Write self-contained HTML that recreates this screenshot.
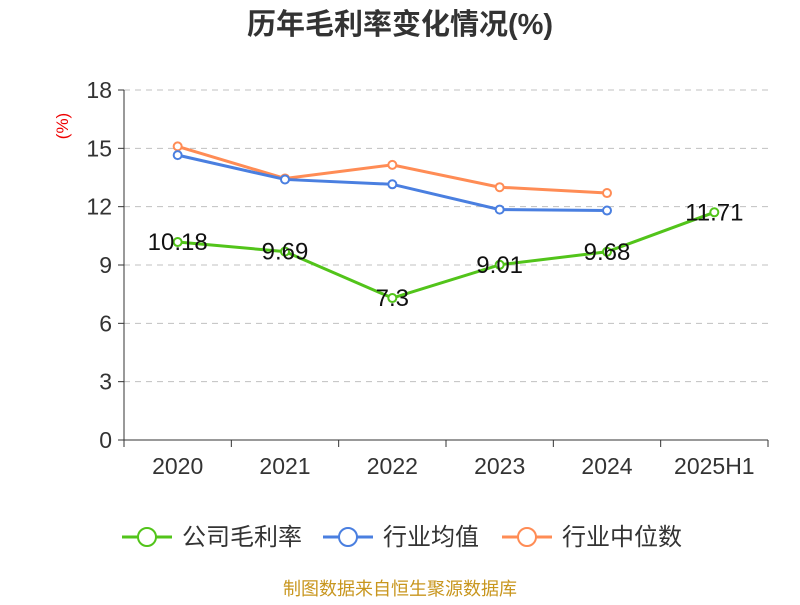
<!DOCTYPE html>
<html><head><meta charset="utf-8"><style>
body{margin:0;background:#fff;font-family:"Liberation Sans","Noto Sans CJK SC",sans-serif;}
</style></head><body>
<svg width="800" height="600" xmlns="http://www.w3.org/2000/svg" font-family="Liberation Sans, Noto Sans CJK SC, sans-serif">
<text x="400" y="34" text-anchor="middle" font-size="29" font-weight="bold" fill="#333">历年毛利率变化情况(%)</text>
<text transform="translate(68,126) rotate(-90)" text-anchor="middle" font-size="17" fill="#e00">(%)</text>
<g id="grid"></g><g id="axes"></g><g id="series"></g>
<g>
 <g><line x1="122" y1="537" x2="172" y2="537" stroke="#52c41a" stroke-width="3"/><circle cx="147" cy="537" r="9" fill="#fff" stroke="#52c41a" stroke-width="2"/><text x="182" y="545" font-size="24" fill="#333">公司毛利率</text></g>
 <g><line x1="323" y1="537" x2="373" y2="537" stroke="#4a7fe0" stroke-width="3"/><circle cx="348" cy="537" r="9" fill="#fff" stroke="#4a7fe0" stroke-width="2"/><text x="383" y="545" font-size="24" fill="#333">行业均值</text></g>
 <g><line x1="502" y1="537" x2="552" y2="537" stroke="#ff8c55" stroke-width="3"/><circle cx="527" cy="537" r="9" fill="#fff" stroke="#ff8c55" stroke-width="2"/><text x="562" y="545" font-size="24" fill="#333">行业中位数</text></g>
</g>
<text x="400" y="595" text-anchor="middle" font-size="18" fill="#c8961e">制图数据来自恒生聚源数据库</text>
</svg>
<script>
const categories=["2020","2021","2022","2023","2024","2025H1"];
const companyValues=[10.18,9.69,7.3,9.01,9.68,11.71];
const industryAvg=[14.65,13.4,13.15,11.85,11.8,null];
const industryMedian=[15.1,13.45,14.15,13.0,12.7,null];
const yTicks=[0,3,6,9,12,15,18];
const NS="http://www.w3.org/2000/svg";
const x0=124,x1=768,y0=440,y1=90,yMax=18;
const bw=(x1-x0)/categories.length;
const xs=i=>x0+bw*(i+0.5);
const ys=v=>y0-(v/yMax)*(y0-y1);
function mk(tag,attrs,parent){const e=document.createElementNS(NS,tag);for(const k in attrs)e.setAttribute(k,attrs[k]);parent.appendChild(e);return e;}
const grid=document.getElementById('grid'),axes=document.getElementById('axes'),ser=document.getElementById('series');
yTicks.forEach(t=>{const y=ys(t);
 if(t>0){const g=mk('line',{x1:x0,x2:x1,y1:y,y2:y,stroke:'#c0c0c0','stroke-dasharray':'6,5'},grid);
 
 }
 mk('line',{x1:x0-6,x2:x0,y1:y,y2:y,stroke:'#333'},axes);
 const tx=mk('text',{x:x0-12,y:y+8,'text-anchor':'end','font-size':'23',fill:'#333'},axes);tx.textContent=t;
 
 
});
mk('line',{x1:x0,x2:x0,y1:y1,y2:y0,stroke:'#333'},axes);
mk('line',{x1:x0,x2:x1,y1:y0,y2:y0,stroke:'#333'},axes);
for(let i=0;i<=categories.length;i++)mk('line',{x1:x0+bw*i,x2:x0+bw*i,y1:y0,y2:y0+7,stroke:'#333'},axes);
categories.forEach((c,i)=>{const t=mk('text',{x:xs(i),y:y0+34,'text-anchor':'middle','font-size':'23',fill:'#333'},axes);t.textContent=c;
 
 });
function series(vals,color,name,labels){
 const pts=vals.map((v,i)=>v==null?null:[xs(i),ys(v)]).filter(p=>p);
 const pl=mk('polyline',{points:pts.map(p=>p.join(',')).join(' '),fill:'none',stroke:color,'stroke-width':3},ser);
 
 
 vals.forEach((v,i)=>{if(v==null)return;
  const c=mk('circle',{cx:xs(i),cy:ys(v),r:4,fill:'#fff',stroke:color,'stroke-width':2},ser);
  
  
  if(labels){const t=mk('text',{x:xs(i),y:ys(v)+8,'text-anchor':'middle','font-size':'24',fill:'#111'},ser);t.textContent=v;
   
   }
 });
}
series(industryMedian,'#ff8c55','industry-median',false);
series(industryAvg,'#4a7fe0','industry-avg',false);
series(companyValues,'#52c41a','company',true);
</script>
</body></html>
